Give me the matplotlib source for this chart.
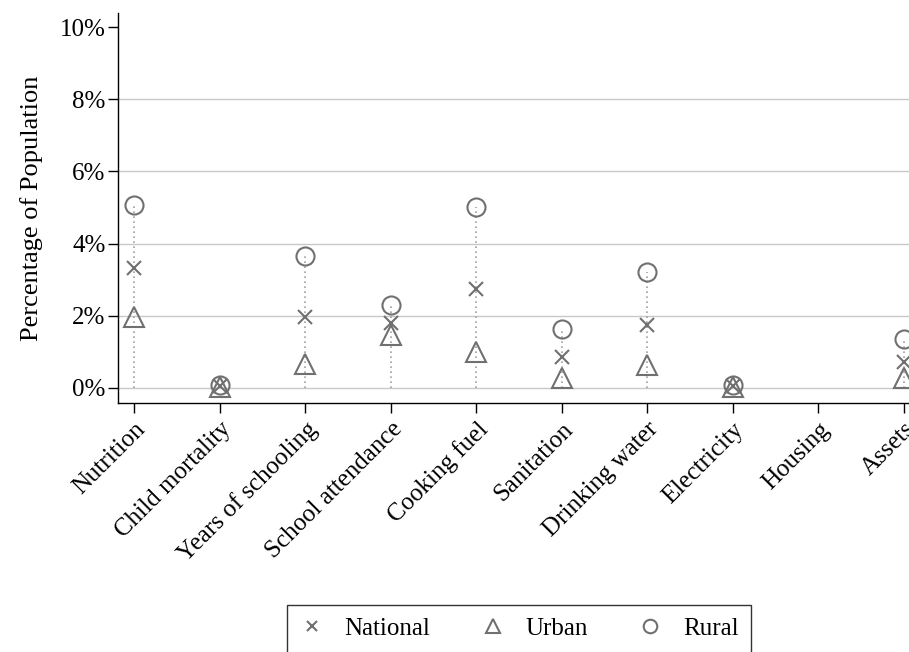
import matplotlib
matplotlib.use("Agg")
import matplotlib.pyplot as plt
import numpy as np

plt.rcParams['font.family'] = ['Liberation Serif', 'DejaVu Serif']

categories = ['Nutrition', 'Child mortality', 'Years of schooling', 'School attendance',
              'Cooking fuel', 'Sanitation', 'Drinking water', 'Electricity', 'Housing', 'Assets']
national = [3.32, 0.05, 1.97, 1.80, 2.74, 0.86, 1.75, 0.05, np.nan, 0.72]
urban = [1.97, 0.03, 0.66, 1.45, 0.98, 0.28, 0.64, 0.03, np.nan, 0.28]
rural = [5.08, 0.07, 3.66, 2.30, 5.01, 1.63, 3.21, 0.07, np.nan, 1.36]
yticks = [0, 2, 4, 6, 8, 10]

gray = '#707070'
fs = 18

fig = plt.figure(figsize=(9.09, 6.52), dpi=100)
ax = fig.add_axes([0.1298, 0.382, 0.8702, 0.598])

x = np.arange(len(categories))
top = np.nanmax(np.vstack([national, urban, rural]), axis=0)
for xi, t in zip(x, top):
    if np.isnan(t):
        continue
    ax.plot([xi, xi], [0, t], color='#a0a0a0', linestyle=(0, (1, 2)), linewidth=1.2, zorder=2)

ax.plot(x, national, linestyle='none', marker='x', markersize=10, markeredgewidth=1.5,
        color=gray, label='National', zorder=3)
ax.plot(x, urban, linestyle='none', marker='^', markersize=14, markeredgewidth=1.5,
        markerfacecolor='none', markeredgecolor=gray, label='Urban', zorder=3)
ax.plot(x, rural, linestyle='none', marker='o', markersize=13, markeredgewidth=1.5,
        markerfacecolor='none', markeredgecolor=gray, label='Rural', zorder=3)

ax.set_xlim(-0.19, 9.06)
ax.set_ylim(-0.42, 10.39)
ax.set_yticks(yticks)
ax.set_yticklabels([f'{v}%' for v in yticks], fontsize=fs)
for v in yticks[:-1]:
    ax.axhline(v, color='#c8c8c8', linewidth=1.0, zorder=1)

ax.set_xticks(x)
ax.set_xticklabels(categories, rotation=45, ha='right', rotation_mode='anchor', fontsize=fs)
ax.tick_params(axis='both', direction='out', length=7, width=1.0, colors='black')
ax.tick_params(axis='x', pad=4)
ax.tick_params(axis='y', pad=2)
ax.set_ylabel('Percentage of Population', fontsize=19, labelpad=12)

ax.spines['top'].set_visible(False)
ax.spines['right'].set_visible(False)
ax.spines['left'].set_linewidth(1.0)
ax.spines['bottom'].set_linewidth(1.0)

handles, labels = ax.get_legend_handles_labels()
leg = fig.legend(handles, labels, loc='upper center', bbox_to_anchor=(0.571, 0.072), ncol=3,
                 fontsize=fs, frameon=True, fancybox=False, edgecolor='black',
                 markerscale=0.75, handlelength=1.0, columnspacing=2.0, borderpad=0.5,
                 borderaxespad=0)
leg.get_frame().set_linewidth(1.0)

fig.savefig('out.png', dpi=100)
